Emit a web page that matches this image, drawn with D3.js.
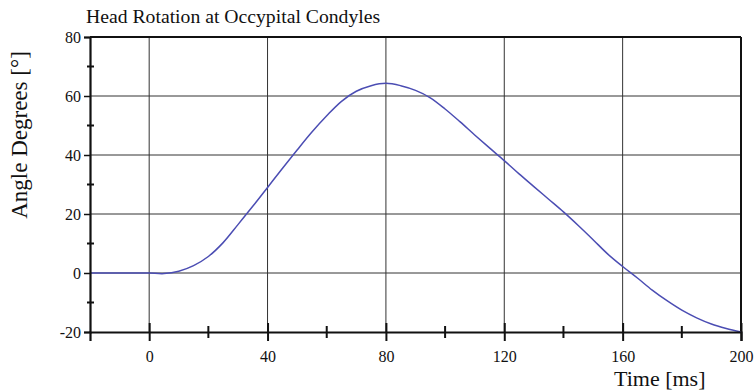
<!DOCTYPE html>
<html><head><meta charset="utf-8">
<script src="https://cdn.jsdelivr.net/npm/d3@7"></script>
<style>body{margin:0;background:#fff}svg{display:block}</style>
</head><body>
<script>
const times = [-20,-15,-10,-5,0,5,10,15,20,25,30,35,40,45,50,55,60,65,70,75,80,85,90,95,100,105,110,115,120,125,130,135,140,145,150,155,160,165,170,175,180,185,190,195,200];
const angles = [0,0,0,0,0,-0.2,0.6,2.5,5.6,10.3,16.4,22.6,29,35.4,41.7,47.8,53.3,58.2,61.6,63.5,64.3,63.5,61.9,59.4,55.6,51.3,46.8,42.4,38.1,33.6,29.3,25,20.7,16.1,11.3,6.4,2.2,-1.7,-5.8,-9.4,-12.6,-15.2,-17.3,-18.8,-20];
const xMajor = [0,40,80,120,160,200];
const xMinor = [20,60,100,140,180];
const yMajor = [-20,0,20,40,60,80];
const yMinor = [-10,10,30,50,70];
const title = "Head Rotation at Occypital Condyles";
const xTitle = "Time [ms]";
const yTitle = "Angle Degrees [°]";

const FONT = '"Liberation Serif","Times New Roman",serif';
const W=755,H=392;
const svg=d3.select("body").append("svg").attr("width",W).attr("height",H);
const x=d3.scaleLinear().domain([-20,200]).range([90,741]);
const y=d3.scaleLinear().domain([-20,80]).range([332,37]);

// grid
svg.append("g").selectAll("line").data(xMajor.filter(d=>d<200)).join("line")
 .attr("x1",d=>x(d)).attr("x2",d=>x(d)).attr("y1",y(80)).attr("y2",y(-20))
 .attr("stroke","#333").attr("stroke-width",1);
svg.append("g").selectAll("line").data(yMajor.filter(d=>d>-20&&d<80)).join("line")
 .attr("x1",x(-20)).attr("x2",x(200)).attr("y1",d=>y(d)).attr("y2",d=>y(d))
 .attr("stroke","#333").attr("stroke-width",1);

// frame top/right
svg.append("line").attr("x1",x(-20)).attr("x2",x(200)).attr("y1",y(80)).attr("y2",y(80)).attr("stroke","#111").attr("stroke-width",2);
svg.append("line").attr("x1",x(200)).attr("x2",x(200)).attr("y1",y(80)).attr("y2",y(-20)).attr("stroke","#111").attr("stroke-width",2);

// curve
svg.append("path").datum(times.map((t,i)=>[t,angles[i]]))
 .attr("d",d3.line().x(d=>x(d[0])).y(d=>y(d[1])).curve(d3.curveCatmullRom.alpha(0.5)))
 .attr("fill","none").attr("stroke","#4b4db3").attr("stroke-width",1.5);

// axes
const xAxis=svg.append("g").attr("transform",`translate(0,${y(-20)})`)
 .call(d3.axisBottom(x).tickValues(xMajor).tickSize(9).tickPadding(10).tickFormat(d=>String(d)));
xAxis.select(".domain").attr("stroke","#111").attr("stroke-width",2.2);
xAxis.selectAll(".tick line").attr("y1",-9).attr("stroke","#111").attr("stroke-width",2);
xAxis.selectAll("text").style("font-family",FONT).style("font-size","16px").attr("fill","#111");
svg.append("g").selectAll("line").data(xMinor).join("line")
 .attr("x1",d=>x(d)).attr("x2",d=>x(d)).attr("y1",y(-20)-6).attr("y2",y(-20)+6)
 .attr("stroke","#111").attr("stroke-width",2);

const yAxis=svg.append("g").attr("transform",`translate(${x(-20)},0)`)
 .call(d3.axisLeft(y).tickValues(yMajor).tickSize(6).tickPadding(3).tickFormat(d=>String(d)));
yAxis.select(".domain").attr("stroke","#111").attr("stroke-width",2.2);
yAxis.selectAll(".tick line").attr("stroke","#111").attr("stroke-width",1.5);
yAxis.selectAll("text").style("font-family",FONT).style("font-size","16px").attr("fill","#111");
svg.append("g").selectAll("line").data(yMinor).join("line")
 .attr("x1",x(-20)-3).attr("x2",x(-20)+4).attr("y1",d=>y(d)).attr("y2",d=>y(d))
 .attr("stroke","#111").attr("stroke-width",2);

// titles
const txt=(sel)=>sel.style("font-family",FONT).attr("fill","#111");
svg.append("text").attr("x",86).attr("y",23).style("font-size","19.7px").text(title).call(txt);
svg.append("text").attr("x",614).attr("y",386).style("font-size","22px").text(xTitle).call(txt);
svg.append("text").attr("transform","translate(27,135) rotate(-90)").attr("text-anchor","middle").style("font-size","23px").text(yTitle).call(txt);
</script>
</body></html>
